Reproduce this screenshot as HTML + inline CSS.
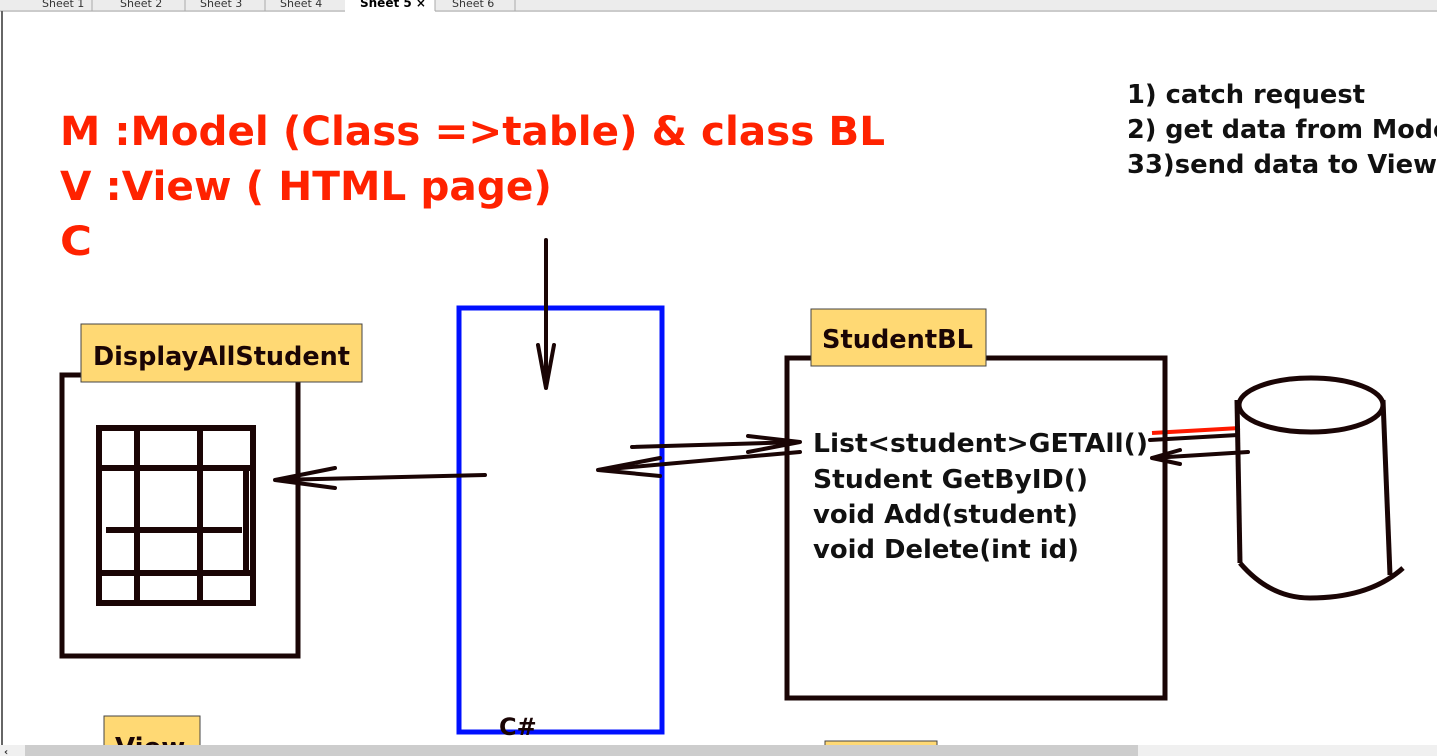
<!DOCTYPE html>
<html><head><style>
html,body{margin:0;padding:0;background:#fff;width:1437px;height:756px;overflow:hidden}
svg{display:block}
text{font-family:"DejaVu Sans","Liberation Sans",sans-serif;font-weight:bold}
</style></head><body>
<svg width="1437" height="756" viewBox="0 0 1437 756" xmlns="http://www.w3.org/2000/svg">
<rect x="0" y="0" width="1437" height="12" fill="#ececec"/>
<line x1="0" y1="11" x2="1437" y2="11" stroke="#aaa"/>
<g font-size="11" fill="#333">
<text x="42" y="7" style="font-weight:normal">Sheet 1</text>
<text x="120" y="7" style="font-weight:normal">Sheet 2</text>
<text x="200" y="7" style="font-weight:normal">Sheet 3</text>
<text x="280" y="7" style="font-weight:normal">Sheet 4</text>
<text x="452" y="7" style="font-weight:normal">Sheet 6</text>
</g>
<rect x="345" y="0" width="90" height="12" fill="#fff"/>
<text x="360" y="7" font-size="12" fill="#000">Sheet 5 ×</text>
<g stroke="#aaa"><line x1="92" y1="0" x2="92" y2="11"/><line x1="185" y1="0" x2="185" y2="11"/><line x1="265" y1="0" x2="265" y2="11"/><line x1="435" y1="0" x2="435" y2="11"/><line x1="515" y1="0" x2="515" y2="11"/></g>
<line x1="2" y1="11" x2="2" y2="745" stroke="#666" stroke-width="2"/>

<g fill="#ff2200" font-size="40">
<text x="60" y="145" textLength="825" lengthAdjust="spacingAndGlyphs">M :Model (Class =&gt;table) &amp; class BL</text>
<text x="60" y="200" textLength="492" lengthAdjust="spacingAndGlyphs">V :View ( HTML page)</text>
<text x="60" y="255" textLength="32" lengthAdjust="spacingAndGlyphs">C</text>
</g>
<g fill="#111" font-size="26">
<text x="1127" y="103" textLength="238" lengthAdjust="spacingAndGlyphs">1) catch request</text>
<text x="1127" y="138" textLength="332" lengthAdjust="spacingAndGlyphs">2) get data from Model</text>
<text x="1127" y="173" textLength="310" lengthAdjust="spacingAndGlyphs">33)send data to View</text>
</g>

<rect x="62" y="375" width="236" height="281" fill="none" stroke="#1a0505" stroke-width="5"/>
<rect x="81" y="324" width="281" height="58" fill="#ffd974" stroke="#444"/>
<text x="93" y="365" font-size="26" fill="#1a0505" textLength="257" lengthAdjust="spacingAndGlyphs">DisplayAllStudent</text>
<g stroke="#1a0505" stroke-width="6" fill="none">
<rect x="99" y="428" width="154" height="175"/>
<line x1="137" y1="428" x2="137" y2="603"/>
<line x1="200" y1="428" x2="200" y2="603"/>
<line x1="99" y1="468" x2="253" y2="468"/>
<line x1="106" y1="530" x2="242" y2="530"/>
<line x1="99" y1="573" x2="253" y2="573"/>
<line x1="246" y1="468" x2="246" y2="573"/>
</g>

<rect x="459" y="308" width="203" height="424" fill="none" stroke="#0010ff" stroke-width="5"/>
<text x="499" y="735" font-size="24" fill="#1a0505">C#</text>

<g stroke="#1a0505" stroke-width="4" fill="none" stroke-linecap="round">
<line x1="546" y1="240" x2="546" y2="388"/>
<path d="M538 345 L546 388 L554 345"/>
<line x1="485" y1="475" x2="275" y2="480"/>
<path d="M335 468 L275 480 L335 488"/>
<line x1="632" y1="447" x2="800" y2="442"/>
<path d="M748 436 L800 442 L748 452"/>
<line x1="800" y1="452" x2="598" y2="470"/>
<path d="M660 458 L598 470 L660 476"/>
<line x1="1150" y1="440" x2="1238" y2="435"/>
<line x1="1248" y1="452" x2="1152" y2="458"/>
<path d="M1180 450 L1152 458 L1180 464"/>
</g>
<line x1="1152" y1="433" x2="1240" y2="428" stroke="#ff1a00" stroke-width="4"/>

<rect x="787" y="358" width="378" height="340" fill="none" stroke="#1a0505" stroke-width="5"/>
<rect x="811" y="309" width="175" height="57" fill="#ffd974" stroke="#444"/>
<text x="822" y="348" font-size="26" fill="#1a0505" textLength="151" lengthAdjust="spacingAndGlyphs">StudentBL</text>
<g fill="#111" font-size="26">
<text x="813" y="452" textLength="335" lengthAdjust="spacingAndGlyphs">List&lt;student&gt;GETAll()</text>
<text x="813" y="488" textLength="275" lengthAdjust="spacingAndGlyphs">Student GetByID()</text>
<text x="813" y="523" textLength="265" lengthAdjust="spacingAndGlyphs">void Add(student)</text>
<text x="813" y="558" textLength="266" lengthAdjust="spacingAndGlyphs">void Delete(int id)</text>
</g>

<g stroke="#1a0505" stroke-width="5" fill="none">
<ellipse cx="1311" cy="405" rx="72" ry="27"/>
<line x1="1237" y1="400" x2="1240" y2="563"/>
<line x1="1383" y1="400" x2="1390" y2="575"/>
<path d="M1240 563 Q1270 598 1310 598 Q1370 598 1403 568"/>
</g>

<rect x="104" y="716" width="96" height="40" fill="#ffd974" stroke="#444"/>
<text x="115" y="756" font-size="26" fill="#1a0505">View</text>
<rect x="825" y="741" width="112" height="15" fill="#ffd974" stroke="#444"/>
<rect x="0" y="745" width="1437" height="11" fill="#f0f0f0"/>
<rect x="25" y="745" width="1113" height="11" fill="#cdcdcd"/>
<text x="4" y="755" font-size="10" fill="#333">‹</text>
</svg>
</body></html>
